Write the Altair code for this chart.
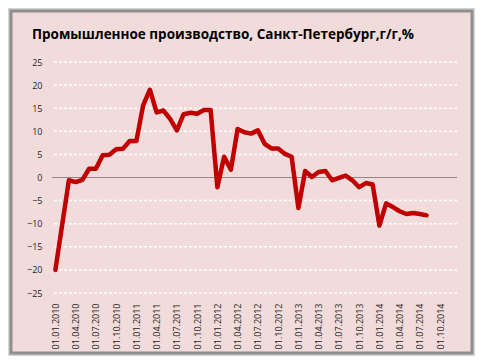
import altair as alt
import pandas as pd

# Monthly values, Jan 2010 .. Aug 2014 (% y/y)
values = [-20.0, -10.3, -0.6, -1.0, -0.5, 1.9, 1.9, 4.8, 4.9, 6.1, 6.2, 7.9,
          7.9, 15.6, 19.0, 14.1, 14.5, 12.7, 10.2, 13.7, 14.0, 13.8, 14.6, 14.6,
          -2.1, 4.5, 1.7, 10.5, 9.8, 9.5, 10.2, 7.3, 6.3, 6.3, 5.1, 4.5,
          -6.6, 1.4, 0.1, 1.2, 1.4, -0.6, -0.1, 0.4, -0.6, -2.1, -1.2, -1.5,
          -10.4, -5.6, -6.4, -7.3, -7.9, -7.7, -7.9, -8.2]

tick_labels = ["01.01.2010", "01.04.2010", "01.07.2010", "01.10.2010",
               "01.01.2011", "01.04.2011", "01.07.2011", "01.10.2011",
               "01.01.2012", "01.04.2012", "01.07.2012", "01.10.2012",
               "01.01.2013", "01.04.2013", "01.07.2013", "01.10.2013",
               "01.01.2014", "01.04.2014", "01.07.2014", "01.10.2014"]
tick_idx = [3 * k for k in range(len(tick_labels))]
y_ticks = [-25, -20, -15, -10, -5, 5, 10, 15, 20, 25]

title = "Промышленное производство, Санкт-Петербург,г/г,%"

df = pd.DataFrame({"m": list(range(len(values))), "v": values})
grid_df = pd.DataFrame({"v": y_ticks})
zero_df = pd.DataFrame({"v": [0]})
title_df = pd.DataFrame({"t": [title]})

W, H = 405, 231
FONT = "Open Sans"

labels_js = "[" + ",".join("'%s'" % s for s in tick_labels) + "]"

x_enc = alt.X("m:Q",
              scale=alt.Scale(domain=[-0.5, 59.5], nice=False, zero=False),
              axis=alt.Axis(values=tick_idx, labelExpr=labels_js + "[round(datum.value / 3)]",
                            labelAngle=-90, title=None, domain=False, ticks=False, grid=False,
                            labelFont=FONT, labelFontSize=9, labelColor="#1e1e1e",
                            labelPadding=10, labelOverlap=False, zindex=2))
y_enc = alt.Y("v:Q",
              scale=alt.Scale(domain=[-25, 25], nice=False),
              axis=alt.Axis(values=list(range(-25, 30, 5)), title=None, domain=False,
                            ticks=False, grid=False, labelFont=FONT, labelFontSize=9,
                            labelColor="#1e1e1e", labelPadding=10, zindex=2))

one = pd.DataFrame({"a": [0]})
shadow = alt.Chart(one).mark_rect(fill="transparent", stroke="#d4d4d4", strokeWidth=8).encode(
    x=alt.value(-41), x2=alt.value(420), y=alt.value(-51), y2=alt.value(291))
frame = alt.Chart(one).mark_rect(fill="#f2dcdb", stroke="#8e8e8e", strokeWidth=3).encode(
    x=alt.value(-41), x2=alt.value(420), y=alt.value(-51), y2=alt.value(291))

grid = alt.Chart(grid_df).mark_rule(color="white", strokeDash=[3, 2], strokeWidth=1.5).encode(y=y_enc)
zero = alt.Chart(zero_df).mark_rule(color="#958686", strokeWidth=1).encode(y=y_enc)
line = alt.Chart(df).mark_line(color="#c00000", strokeWidth=4.5, strokeJoin="round",
                               strokeCap="round").encode(x=x_enc, y=y_enc)
title_mark = alt.Chart(title_df).mark_text(
    align="left", baseline="alphabetic", font=FONT, fontSize=13.5, fontWeight="bold", color="#000000"
).encode(text="t:N", x=alt.value(-20), y=alt.value(-23))

chart = alt.layer(shadow, frame, grid, zero, line, title_mark).properties(
    width=W, height=H,
    padding={"left": 44, "top": 54, "right": 18, "bottom": 63},
    autosize="none",
    background="white",
).configure_view(stroke="transparent")

chart.save("out.html", embed_options={"renderer": "svg", "actions": False})
